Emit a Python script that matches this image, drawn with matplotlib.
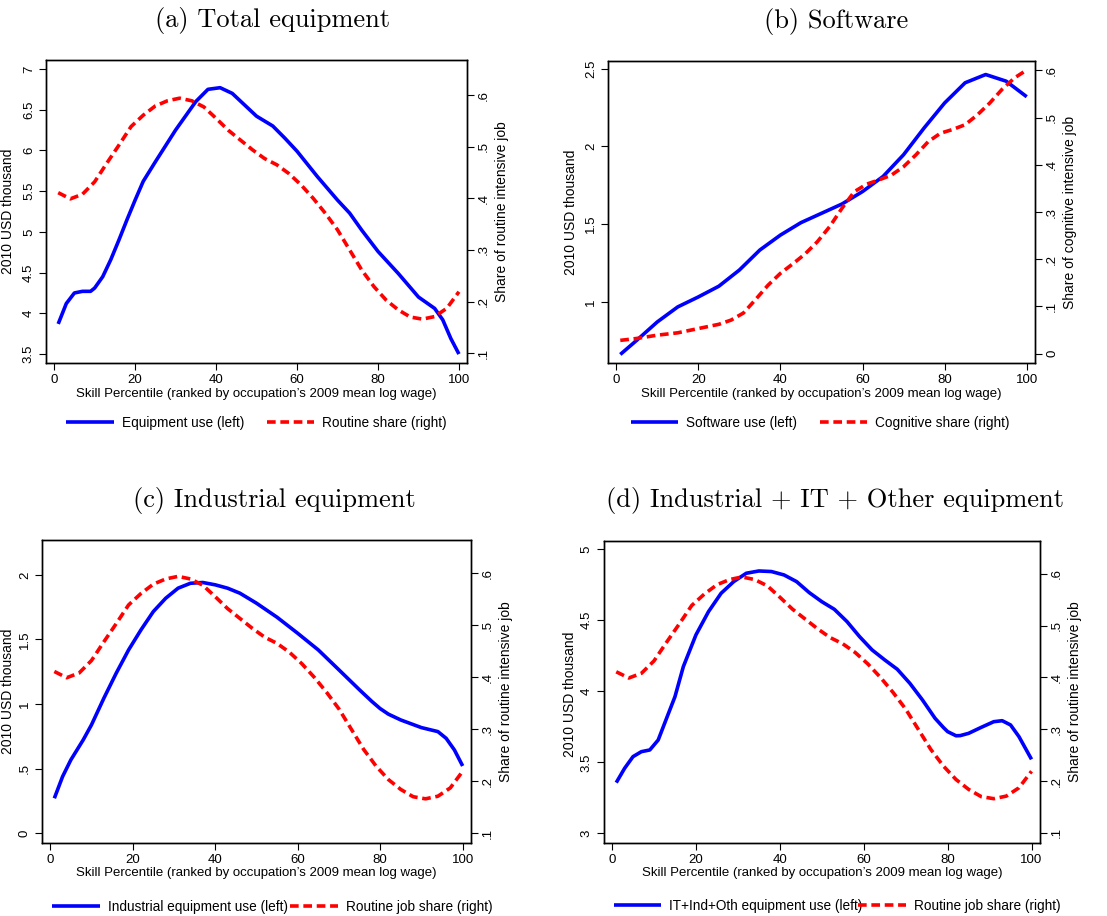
import matplotlib
matplotlib.use("Agg")
import matplotlib.pyplot as plt

plt.rcParams["font.family"] = ["Liberation Sans", "DejaVu Sans"]
plt.rcParams["font.size"] = 9

BLUE = "#0000ff"
RED = "#ff0000"
XLABEL = "Skill Percentile (ranked by occupation\u2019s 2009 mean log wage)"

# routine share (right axis in a, c, d)
routine_x = [1, 4, 7, 10, 13, 16, 19, 22, 25, 28, 31, 34, 37, 40, 43, 46, 49, 52, 55, 58,
             61, 64, 67, 70, 73, 76, 79, 82, 85, 88, 91, 94, 97, 100]
routine_y = [.411, .399, .408, .432, .468, .503, .539, .561, .579, .589, .594, .589, .577,
             .555, .532, .513, .494, .477, .465, .448, .426, .400, .371, .339, .300, .261,
             .229, .203, .184, .170, .166, .171, .187, .219]

# (a) total equipment use
equip_x = [1, 3, 5, 7, 9, 10, 12, 14, 16, 18, 20, 22, 25, 30, 35, 38, 41, 44, 47, 50, 54,
           57, 60, 65, 70, 73, 76, 80, 85, 90, 94, 96, 98, 100]
equip_y = [3.87, 4.12, 4.25, 4.27, 4.27, 4.31, 4.45, 4.66, 4.90, 5.15, 5.39, 5.62, 5.86,
           6.25, 6.60, 6.75, 6.77, 6.70, 6.56, 6.42, 6.30, 6.15, 5.99, 5.68, 5.39, 5.23,
           5.02, 4.76, 4.49, 4.20, 4.06, 3.92, 3.69, 3.50]

# (b) software use and cognitive share
soft_x = [1, 5, 10, 15, 20, 25, 30, 35, 40, 45, 50, 55, 60, 65, 70, 75, 80, 85, 90, 95, 100]
soft_y = [0.662, 0.753, 0.871, 0.968, 1.032, 1.101, 1.205, 1.334, 1.430, 1.510, 1.570,
          1.630, 1.710, 1.807, 1.947, 2.119, 2.280, 2.410, 2.463, 2.420, 2.320]
cog_x = [1, 5, 10, 15, 20, 25, 28, 31, 34, 37, 40, 43, 46, 49, 52, 55, 58, 61, 64, 67,
         70, 73, 76, 79, 82, 85, 88, 91, 94, 97, 100]
cog_y = [.028, .032, .039, .044, .053, .062, .071, .086, .115, .145, .170, .190, .211,
         .237, .269, .308, .343, .359, .368, .378, .396, .421, .449, .467, .475, .485,
         .506, .531, .560, .584, .601]

# (c) industrial equipment use
ind_x = [1, 3, 5, 8, 10, 13, 16, 19, 22, 25, 28, 31, 34, 37, 40, 43, 46, 50, 55, 60, 65,
         70, 75, 78, 80, 82, 85, 90, 94, 96, 98, 100]
ind_y = [0.271, 0.439, 0.568, 0.723, 0.839, 1.045, 1.239, 1.419, 1.574, 1.716, 1.819,
         1.897, 1.935, 1.941, 1.923, 1.897, 1.858, 1.781, 1.672, 1.548, 1.419, 1.265,
         1.110, 1.020, 0.965, 0.922, 0.877, 0.818, 0.787, 0.735, 0.645, 0.521]

# (d) IT + industrial + other equipment use
all_x = [1, 3, 5, 7, 9, 11, 13, 15, 17, 20, 23, 26, 29, 32, 35, 38, 41, 44, 47, 50, 53,
         56, 59, 62, 65, 68, 71, 74, 77, 79, 80, 82, 83, 85, 88, 91, 93, 95, 97, 100]
all_y = [3.357, 3.458, 3.540, 3.575, 3.587, 3.657, 3.810, 3.962, 4.174, 4.397, 4.561,
         4.690, 4.772, 4.831, 4.847, 4.843, 4.819, 4.772, 4.695, 4.631, 4.577, 4.491,
         4.385, 4.291, 4.221, 4.155, 4.056, 3.939, 3.810, 3.745, 3.716, 3.687, 3.688,
         3.704, 3.746, 3.786, 3.793, 3.763, 3.681, 3.521]

x_ticks = [0, 20, 40, 60, 80, 100]
share_ticks = [.1, .2, .3, .4, .5, .6]
share_labels = [".1", ".2", ".3", ".4", ".5", ".6"]
cog_ticks = [0, .1, .2, .3, .4, .5, .6]
cog_labels = ["0", ".1", ".2", ".3", ".4", ".5", ".6"]

panels = [
    dict(title="(a) Total equipment", rect=[0.0416, 0.6037, 0.3803, 0.3308],
         lx=equip_x, ly=equip_y, rx=routine_x, ry=routine_y,
         lticks=[3.5, 4, 4.5, 5, 5.5, 6, 6.5, 7],
         llabels=["3.5", "4", "4.5", "5", "5.5", "6", "6.5", "7"], llim=(3.39, 7.11),
         rticks=share_ticks, rlabels=share_labels, rlim=(0.081, 0.668),
         rname="Share of routine intensive job",
         leg=["Equipment use (left)", "Routine share (right)"],
         lpos=(-0.074, 1.066, 0.5), leg_at=(0.5, -0.197), colsp=1.65, tx=0.537),
    dict(title="(b) Software", rect=[0.5492, 0.6037, 0.3857, 0.3297],
         lx=soft_x, ly=soft_y, rx=cog_x, ry=cog_y,
         lticks=[1, 1.5, 2, 2.5], llabels=["1", "1.5", "2", "2.5"], llim=(0.607, 2.55),
         rticks=cog_ticks, rlabels=cog_labels, rlim=(-0.02, 0.62),
         rname="Share of cognitive intensive job",
         leg=["Software use (left)", "Cognitive share (right)"],
         lpos=(-0.071, 1.066, 0.5), leg_at=(0.497, -0.197), colsp=1.65, tx=0.534),
    dict(title="(c) Industrial equipment", rect=[0.0379, 0.0797, 0.3875, 0.3308],
         lx=ind_x, ly=ind_y, rx=routine_x, ry=routine_y,
         lticks=[0, 0.5, 1, 1.5, 2], llabels=["0", ".5", "1", "1.5", "2"], llim=(-0.075, 2.27),
         rticks=share_ticks, rlabels=share_labels, rlim=(0.081, 0.664),
         rname="Share of routine intensive job",
         leg=["Industrial equipment use (left)", "Routine job share (right)"],
         lpos=(-0.063, 1.065, 0.5), leg_at=(0.537, -0.21), colsp=0.15, tx=0.541),
    dict(title="(d) Industrial + IT + Other equipment", rect=[0.5453, 0.0800, 0.3941, 0.3297],
         lx=all_x, ly=all_y, rx=routine_x, ry=routine_y,
         lticks=[3, 3.5, 4, 4.5, 5], llabels=["3", "3.5", "4", "4.5", "5"], llim=(2.934, 5.06),
         rticks=share_ticks, rlabels=share_labels, rlim=(0.081, 0.664),
         rname="Share of routine intensive job",
         leg=["IT+Ind+Oth equipment use (left)", "Routine job share (right)"],
         lpos=(-0.06, 1.065, 0.49), leg_at=(0.535, -0.21), colsp=-0.3, tx=0.53),
]


def draw_panel(fig, p):
    ax = fig.add_axes(p["rect"])
    ax2 = ax.twinx()

    l1, = ax.plot(p["lx"], p["ly"], color=BLUE, lw=2.6, solid_capstyle="butt")
    l2, = ax2.plot(p["rx"], p["ry"], color=RED, lw=2.6, dashes=(2.4, 1.3))

    ax.set_xlim(-2, 102)
    ax.set_xticks(x_ticks)
    ax.set_ylim(*p["llim"])
    ax.set_yticks(p["lticks"], p["llabels"])
    ax2.set_ylim(*p["rlim"])
    ax2.set_yticks(p["rticks"], p["rlabels"])

    for a in (ax, ax2):
        a.tick_params(direction="out", length=5, width=0.8, labelsize=9.5, pad=3)
        for s in a.spines.values():
            s.set_linewidth(1.0)
    for lab in ax.get_yticklabels() + ax2.get_yticklabels():
        lab.set_rotation(90)
        lab.set_va("center")

    ax.set_xlabel(XLABEL, fontsize=9.5, labelpad=1)
    ax.set_ylabel("2010 USD thousand", fontsize=10)
    ax.yaxis.set_label_coords(p["lpos"][0], p["lpos"][2])
    ax2.set_ylabel(p["rname"], fontsize=10)
    ax2.yaxis.set_label_coords(p["lpos"][1], 0.5)

    ax.set_title(p["title"], family="cmr10", fontsize=19, pad=24, x=p["tx"])

    ax.legend([l1, l2], p["leg"], loc="center", bbox_to_anchor=p["leg_at"], ncol=2,
              frameon=False, fontsize=9.8, handlelength=3.5, handletextpad=0.58,
              columnspacing=p["colsp"])


def main():
    fig = plt.figure(figsize=(11.07, 9.16), dpi=100)
    for p in panels:
        draw_panel(fig, p)
    fig.savefig("out.png", dpi=100)
    plt.close(fig)


if __name__ == "__main__":
    main()
